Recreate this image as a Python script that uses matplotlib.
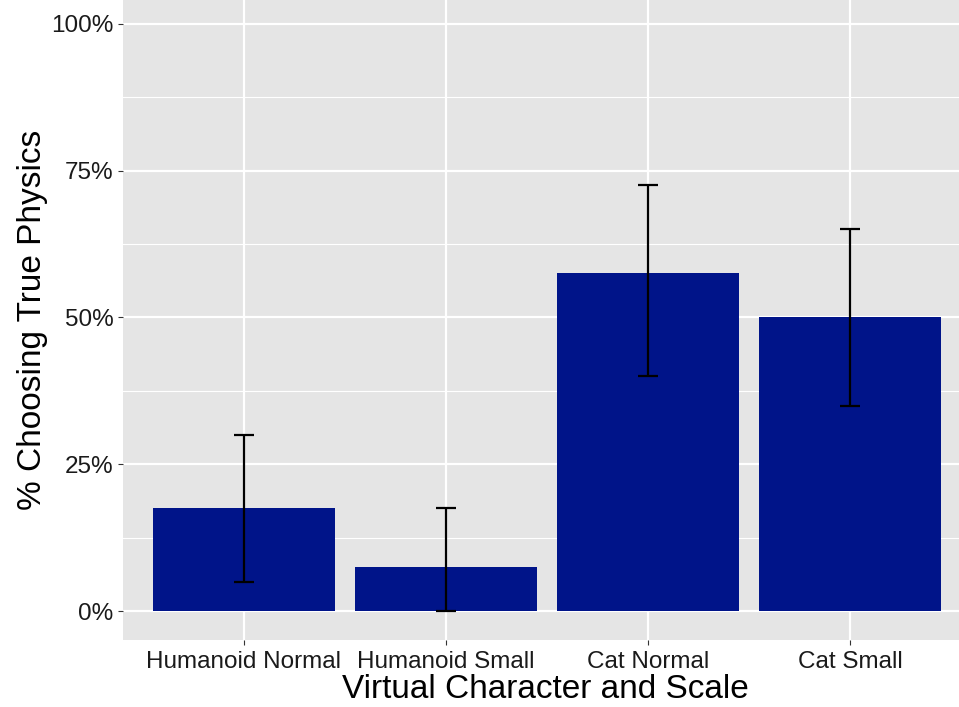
import matplotlib.pyplot as plt
import numpy as np

# data
categories = ['Humanoid Normal', 'Humanoid Small', 'Cat Normal', 'Cat Small']
pct_true = [0.175, 0.075, 0.575, 0.50]
err_low = [0.05, 0.0, 0.40, 0.35]
err_high = [0.30, 0.175, 0.725, 0.65]
y_ticks = [0, 0.25, 0.5, 0.75, 1.0]
y_tick_labels = ['0%', '25%', '50%', '75%', '100%']

plt.rcParams['font.family'] = ['Liberation Sans', 'DejaVu Sans']

fig = plt.figure(figsize=(9.59, 7.07), dpi=100)
W, H = 959.0, 707.0
# panel runs past the right and top edges, like the cropped original
left, right, top, bottom = 122.7, 971.3, -5.35, 640.35
ax = fig.add_axes([left / W, (H - bottom) / H, (right - left) / W, (bottom - top) / H])
ax.set_facecolor('#E5E5E5')
for s in ax.spines.values():
    s.set_visible(False)

x = np.arange(1, len(categories) + 1)

# grid (ggplot style)
ax.set_xlim(0.4, 4.6)
ax.set_ylim(-0.05, 1.05)
ax.set_yticks(y_ticks)
ax.set_yticklabels(y_tick_labels)
ax.set_yticks([0.125, 0.375, 0.625, 0.875], minor=True)
ax.set_xticks(x)
ax.set_xticklabels(categories)
ax.grid(True, which='major', color='white', linewidth=1.6)
ax.grid(True, which='minor', axis='y', color='white', linewidth=0.8)
ax.set_axisbelow(True)

ax.bar(x, pct_true, width=0.9, color='#001489', zorder=2)
ax.errorbar(x, pct_true,
            yerr=[np.array(pct_true) - np.array(err_low), np.array(err_high) - np.array(pct_true)],
            fmt='none', ecolor='black', elinewidth=1.6, capsize=7.2, capthick=1.6, zorder=3)

ax.tick_params(axis='both', which='major', length=3.5, width=0.8, color='#333333',
               labelcolor='#1a1a1a', labelsize=17.5, pad=3)
ax.tick_params(axis='y', which='minor', length=0)
ax.tick_params(axis='x', pad=4)

fig.text(545 / W, 1 - 690 / H, 'Virtual Character and Scale', ha='center', va='center',
         fontsize=24, color='black')
fig.text(33 / W, 1 - 320 / H, '% Choosing True Physics', ha='center', va='center',
         rotation=90, fontsize=24, color='black')

fig.savefig('out.png', dpi=100)
